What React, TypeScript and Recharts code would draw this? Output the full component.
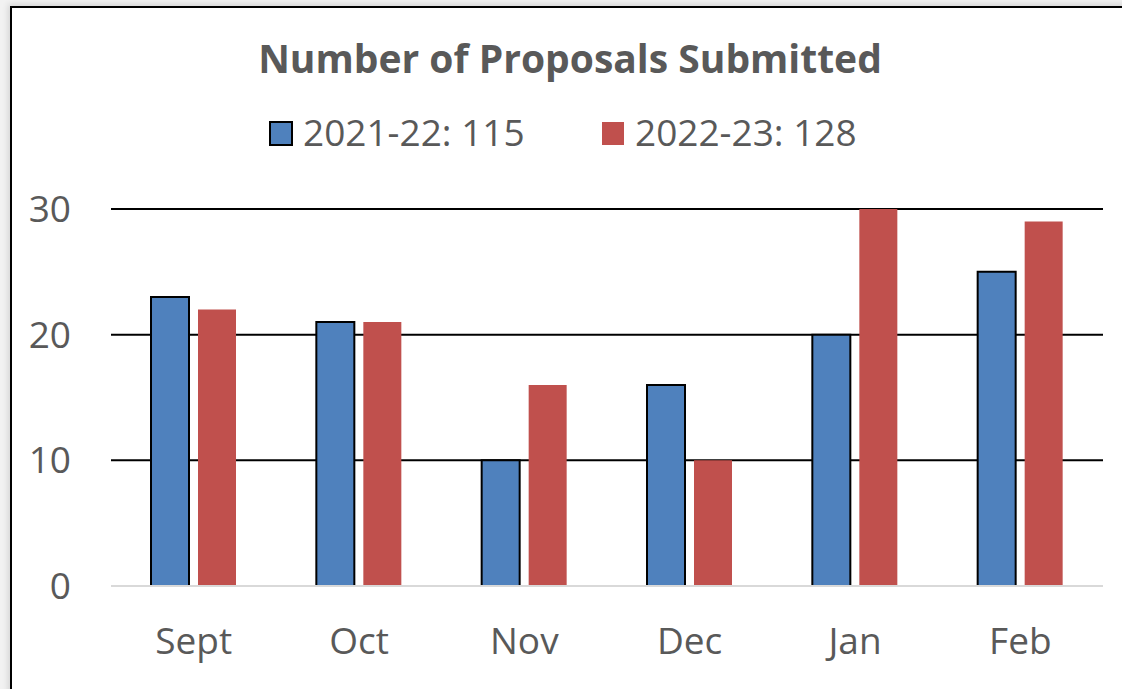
import React from 'react'
import { BarChart, Bar, XAxis, YAxis, CartesianGrid, Legend } from 'recharts'

// values
const months = ['Sept', 'Oct', 'Nov', 'Dec', 'Jan', 'Feb']
const proposals2122 = [23, 21, 10, 16, 20, 25]
const proposals2223 = [22, 21, 16, 10, 30, 29]
const seriesNames = ['2021-22', '2022-23']
const yTicks = [0, 10, 20, 30]

const BLUE = '#4F81BD'
const RED = '#C0504D'
const TEXT = '#595959'
const FONT = '"Open Sans", sans-serif'
const LEGEND_H = 180

const chartData = months.map((m, i) => ({
  month: m,
  a: proposals2122[i],
  b: proposals2223[i],
}))

const total = (arr: number[]) => arr.reduce((s, v) => s + v, 0)

// title + legend drawn together in the legend slot at the top
function renderLegend() {
  const items = [
    { label: `${seriesNames[0]}: ${total(proposals2122)}`, fill: BLUE, stroke: '#000', x: 270 },
    { label: `${seriesNames[1]}: ${total(proposals2223)}`, fill: RED, stroke: 'none', x: 602 },
  ]
  return (
    <svg width={1122} height={LEGEND_H} style={{ display: 'block' }}>
      <text
        x={570}
        y={73}
        textAnchor="middle"
        fontFamily={FONT}
        fontWeight={700}
        fontSize={39}
        fill={TEXT}
      >
        Number of Proposals Submitted
      </text>
      {items.map((it) => (
        <g key={it.label}>
          <rect x={it.x} y={122} width={22} height={23} fill={it.fill} stroke={it.stroke} strokeWidth={2} />
          <text x={it.x + 33} y={146} fontFamily={FONT} fontSize={37} fill={TEXT}>
            {it.label}
          </text>
        </g>
      ))}
    </svg>
  )
}

export default function App() {
  return (
    <div
      style={{
        position: 'absolute',
        top: 0,
        left: 0,
        width: 1122,
        height: 689,
        overflow: 'hidden',
        background: '#f2f2f2',
      }}
    >
      <div
        style={{
          position: 'absolute',
          left: 10,
          top: 6,
          width: 1200,
          height: 800,
          background: '#fff',
          borderTop: '2px solid #000',
          borderLeft: '2px solid #000',
          boxShadow: '-2px -2px 6px rgba(0,0,0,0.12)',
        }}
      />
      <div style={{ position: 'absolute', top: 0, left: 0 }}>
        <BarChart
          width={1122}
          height={689}
          data={chartData}
          margin={{ top: 209 - LEGEND_H, right: 19, bottom: 42, left: 31 }}
          barSize={38}
          barGap={9}
        >
          <CartesianGrid vertical={false} stroke="#000" strokeWidth={2} horizontalValues={[10, 20, 30]} />
          <XAxis
            dataKey="month"
            height={61}
            tickLine={false}
            tickSize={0}
            tickMargin={42}
            axisLine={{ stroke: '#d9d9d9', strokeWidth: 2 }}
            tick={{ fontSize: 37, fill: TEXT, fontFamily: FONT }}
          />
          <YAxis
            width={80}
            domain={[0, 30]}
            ticks={yTicks}
            axisLine={false}
            tickLine={false}
            tickSize={0}
            tickMargin={40}
            tick={{ fontSize: 37, fill: TEXT, fontFamily: FONT }}
          />
          <Legend
            verticalAlign="top"
            content={renderLegend}
            wrapperStyle={{ position: 'absolute', top: 0, left: 0, width: 1122, height: LEGEND_H }}
          />
          <Bar dataKey="a" name={seriesNames[0]} fill={BLUE} stroke="#000" strokeWidth={2} isAnimationActive={false} />
          <Bar dataKey="b" name={seriesNames[1]} fill={RED} isAnimationActive={false} />
        </BarChart>
      </div>
    </div>
  )
}
